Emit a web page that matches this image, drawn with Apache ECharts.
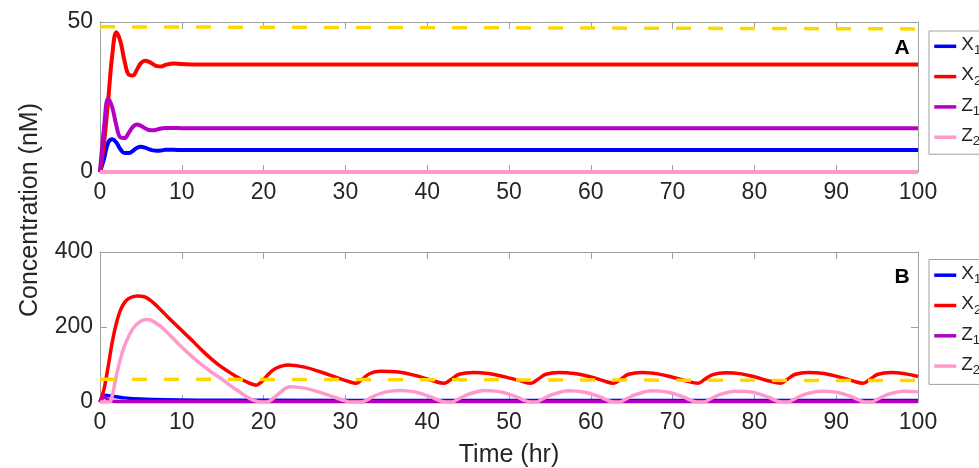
<!DOCTYPE html>
<html>
<head>
<meta charset="utf-8">
<script src="https://cdn.jsdelivr.net/npm/echarts@6/dist/echarts.min.js"></script>
<style>
html,body{margin:0;padding:0;background:#fff;}
#chart{width:979px;height:468px;}
</style>
</head>
<body>
<div id="chart"></div>
<script>
// ---------- DATA ----------
const seriesNames = ['X1', 'X2', 'Z1', 'Z2'];
const xTicks = [0, 100, 10];          // min, max, interval
const yTicksA = [0, 50, 50];
const yTicksB = [0, 400, 200];

// Panel A (time in hr)
const tA   = [0, 0.5, 1, 1.5, 2, 2.5, 3, 3.5, 4, 4.5, 5, 5.5, 6, 6.5, 7, 7.5, 8, 9, 10, 12, 15, 20, 100];
const x1A  = [0, 4.5, 9.8, 10.9, 9.8, 7.6, 6.3, 6.3, 7.0, 8.0, 8.4, 8.1, 7.6, 7.2, 7.1, 7.2, 7.4, 7.4, 7.3, 7.3, 7.3, 7.3, 7.3];
const x2A  = [0, 10, 24, 39, 46.6, 43.5, 37, 32.5, 32.2, 34, 36.3, 37.1, 36.7, 35.9, 35.3, 35.2, 35.7, 36.2, 36.0, 35.8, 35.8, 35.8, 35.8];
const z1A  = [0, 15, 24.4, 21.5, 15.5, 11.5, 11.3, 13, 15.0, 15.8, 15.4, 14.6, 14.0, 13.9, 14.2, 14.5, 14.7, 14.7, 14.6, 14.6, 14.6, 14.6, 14.6];
const z2A  = [0, 0, 0, 0, 0, 0, 0, 0, 0, 0, 0, 0, 0, 0, 0, 0, 0, 0, 0, 0, 0, 0, 0];
const thrT = [0, 100];
const thrA = [48.4, 47.7];

// Panel B
const tX1B = [0, 0.3, 0.6, 1, 2, 3, 5, 8, 12, 20, 40, 100];
const x1B  = [0, 14, 18, 17, 14, 11, 8, 6, 5, 4.5, 4, 4];
const tZ1B = [0, 0.3, 0.6, 1, 1.5, 3, 100];
const z1B  = [0, 10, 12, 6, 2, 1.5, 1.5];
const tX2B = [0, 0.5, 1, 1.5, 2, 2.5, 3, 3.5, 4.5, 5.5, 6.5, 7.5, 8.5, 9.5, 10.5, 11.5, 12.5, 13.5, 14.5, 15.5, 16.5, 17.5, 18.3, 19.1,
  19.8, 20.5, 21.5, 23, 25, 27, 29, 30.5, 31.3, 32, 33, 34.3, 36.5, 38.5, 40.5, 42.1,
  42.9, 43.9, 45.6, 47.5, 49.5, 51.3, 52.7, 53.5, 54.5, 56.1, 58, 60, 61.5, 62.8,
  63.6, 64.6, 66.3, 68.2, 70, 71.7, 73.1, 73.9, 74.9, 76.5, 78.4, 80.2, 81.8, 83.2,
  84, 85, 86.6, 88.5, 90.3, 91.9, 93.3, 94.1, 95.1, 96.7, 98.5, 100];
const x2B  = [0, 35, 95, 160, 210, 245, 265, 276, 283, 280, 265, 244, 222, 201, 180, 159, 137, 117, 99, 84, 70, 58, 50, 45,
  55, 72, 90, 99, 93, 80, 65, 54, 50, 60, 76, 82, 80, 71, 58, 50,
  60, 74, 79, 76, 67, 57, 50, 60, 74, 79, 76, 67, 57, 50,
  60, 74, 79, 75, 66, 56, 50, 60, 73, 78, 75, 66, 56, 50,
  60, 74, 79, 76, 67, 57, 50, 60, 74, 79, 75, 68];
const tZ2B = [0, 1, 1.3, 2, 2.5, 3, 4, 5, 5.85, 7, 8, 9, 10, 11, 12, 13, 14, 15, 16, 17, 18, 19, 19.6, 20.4,
  21.2, 22, 23.2, 25, 27, 29, 30, 30.6, 31.8, 32.6, 33.5, 35, 36.6, 38.5, 40.5, 41.6, 42.3, 43,
  43.8, 45, 47, 49, 51, 52, 52.6, 53.3, 54.1, 55.3, 57.3, 59.3, 61.3, 62.2, 62.8, 63.5,
  64.3, 65.5, 67.5, 69.5, 71.5, 72.4, 73.1, 73.8, 74.6, 75.8, 77.8, 79.8, 81.8, 82.7, 83.4, 84.1,
  84.9, 86.1, 88.1, 90.1, 92.1, 93, 93.6, 94.3, 95.1, 96.3, 98.3, 100];
const z2B  = [0, 0, 2, 70, 115, 150, 195, 216, 220, 208, 190, 168, 146, 126, 107, 90, 74, 59, 43, 28, 13, 3, 0, 0,
  10, 25, 41, 37, 25, 10, 3, 0, 0, 5, 16, 27, 31, 27, 13, 3, 0, 0,
  8, 20, 31, 27, 13, 3, 0, 0, 8, 20, 30, 26, 12, 3, 0, 0,
  8, 20, 30, 26, 12, 3, 0, 0, 8, 20, 29, 26, 12, 3, 0, 0,
  8, 20, 29, 26, 12, 3, 0, 0, 8, 20, 29, 27];
const thrB = [61, 57];

// ---------- STYLE ----------
const FONT = "'Liberation Sans', Arial, Helvetica, sans-serif";
const AX = '#a0a0a0';
const TXT = '#262626';
const colors = { X1: '#0000ff', X2: '#ff0000', Z1: '#b300c4', Z2: '#ff99cc' };
const LW_A = 4;
const LW_B = 3.5;

function pairs(ts, vs) { return ts.map((t, i) => [t, vs[i]]); }

function xAx(grid, pos, label) {
  return {
    type: 'value', gridIndex: grid, position: pos, min: xTicks[0], max: xTicks[1], interval: xTicks[2],
    axisLine: { show: true, onZero: false, lineStyle: { color: AX, width: 1 } },
    axisTick: { show: true, inside: true, length: 7, lineStyle: { color: AX } },
    splitLine: { show: false },
    axisLabel: { show: label, color: TXT, fontSize: 23, fontFamily: FONT, margin: 9 }
  };
}
function yAx(grid, pos, label, tk) {
  return {
    type: 'value', gridIndex: grid, position: pos, min: tk[0], max: tk[1], interval: tk[2],
    axisLine: { show: true, onZero: false, lineStyle: { color: AX, width: 1 } },
    axisTick: { show: true, inside: true, length: 7, lineStyle: { color: AX } },
    splitLine: { show: false },
    axisLabel: { show: label, color: TXT, fontSize: 23, fontFamily: FONT, margin: 7 }
  };
}
function line(name, data, xi, yi, color, lw, dashed) {
  return {
    type: 'line', name: name, data: data, xAxisIndex: xi, yAxisIndex: yi,
    symbol: 'none', showSymbol: false, smooth: dashed ? false : 0.4,
    clip: false, animation: false,
    lineStyle: { color: color, width: lw, type: dashed ? [15, 17] : 'solid', cap: 'butt', join: 'round' },
    itemStyle: { color: color }
  };
}
function legend(top, padTop, padBottom) {
  return {
    left: 929, top: top, orient: 'vertical', selectedMode: false,
    itemWidth: 22, itemHeight: 14, itemGap: 8.3,
    padding: [padTop, 40, padBottom, 3.5],
    borderColor: AX, borderWidth: 1, backgroundColor: '#fff',
    itemStyle: { opacity: 0 },
    lineStyle: { width: 3.5 },
    data: seriesNames,
    formatter: n => '{b|' + n.charAt(0) + '}{s|' + n.slice(1) + '}{z| }',
    textStyle: {
      color: TXT, fontFamily: FONT,
      rich: {
        b: { fontSize: 19, lineHeight: 15, verticalAlign: 'top', color: TXT, fontFamily: FONT },
        s: { fontSize: 13, lineHeight: 9, verticalAlign: 'bottom', color: TXT, fontFamily: FONT },
        z: { fontSize: 5, lineHeight: 22 }
      }
    }
  };
}

const option = {
  backgroundColor: '#fff',
  animation: false,
  grid: [
    { left: 100, top: 22, width: 818, height: 150 },
    { left: 100, top: 252, width: 818, height: 150 }
  ],
  xAxis: [xAx(0, 'bottom', true), xAx(0, 'top', false), xAx(1, 'bottom', true), xAx(1, 'top', false)],
  yAxis: [yAx(0, 'left', true, yTicksA), yAx(0, 'right', false, yTicksA), yAx(1, 'left', true, yTicksB), yAx(1, 'right', false, yTicksB)],
  legend: [legend(31, 4.3, 6), legend(259.5, 4.7, 7.3)],
  series: [
    line('X1', pairs(tA, x1A), 0, 0, colors.X1, LW_A),
    line('X2', pairs(tA, x2A), 0, 0, colors.X2, LW_A),
    line('Z1', pairs(tA, z1A), 0, 0, colors.Z1, LW_A),
    line('Z2', pairs(tA, z2A), 0, 0, colors.Z2, LW_A),
    line('thrA', pairs(thrT, thrA), 0, 0, '#ffd700', 3.5, true),
    line('X1', pairs(tX1B, x1B), 2, 2, colors.X1, LW_B),
    line('X2', pairs(tX2B, x2B), 2, 2, colors.X2, LW_B),
    line('Z1', pairs(tZ1B, z1B), 2, 2, colors.Z1, LW_B),
    line('Z2', pairs(tZ2B, z2B), 2, 2, colors.Z2, LW_B),
    line('thrB', pairs(thrT, thrB), 2, 2, '#ffd700', 3.5, true)
  ],
  graphic: [
    { type: 'text', x: 30, y: 210, rotation: Math.PI / 2,
      style: { text: 'Concentration (nM)', fill: TXT, font: '25px ' + FONT, textAlign: 'center', textVerticalAlign: 'middle' } },
    { type: 'text', x: 509, y: 455,
      style: { text: 'Time (hr)', fill: TXT, font: '25px ' + FONT, textAlign: 'center', textVerticalAlign: 'middle' } },
    { type: 'text', x: 902, y: 48.5,
      style: { text: 'A', fill: '#000', font: 'bold 21px ' + FONT, textAlign: 'center', textVerticalAlign: 'middle' } },
    { type: 'text', x: 902, y: 277,
      style: { text: 'B', fill: '#000', font: 'bold 21px ' + FONT, textAlign: 'center', textVerticalAlign: 'middle' } }
  ]
};

const chart = echarts.init(document.getElementById('chart'), null, { renderer: 'canvas' });
chart.setOption(option);
</script>
</body>
</html>
